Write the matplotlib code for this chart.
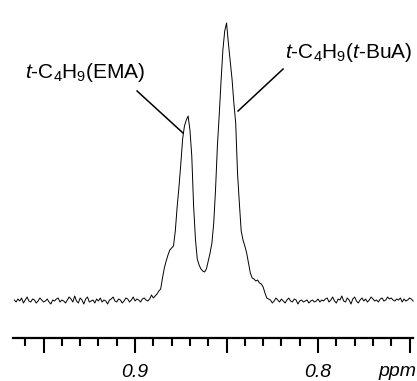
import numpy as np
import matplotlib
matplotlib.use("Agg")
import matplotlib.pyplot as plt
from matplotlib.ticker import MultipleLocator, FixedLocator

plt.rcParams["font.family"] = ["Liberation Sans", "DejaVu Sans"]
plt.rcParams["mathtext.fontset"] = "custom"
plt.rcParams["mathtext.rm"] = "Liberation Sans"
plt.rcParams["mathtext.it"] = "Liberation Sans:italic"

# 1H NMR trace, t-butyl region. Points are sampled every 0.001 ppm from 0.966 ppm downfield.
ppm_start = 0.966
ppm_step = 0.001

baseline_left = [
    1, -1, 2, 0, 3, -2, 1, 4, 0, -1,
    2, 1, -2, 0, 3, 1, -1, 0, 2, -1,
    -3, 1, 0, 2, 3, -1, 1, 0, -2, 1,
    4, 2, -1, 5, 0, -2, 3, 1, -3, 2,
    4, -1, 0, 1, -2, 2, 0, 3, -1, 1,
    0, -3, 1, 2, 4, 0, -1, 2, 1, -2,
    0, 3, 2, -1, 1, 4, 0, 2, 1, -1,
    2, 3, 1, 0, 2, 6, 3,
]
peaks = [
    5, 7, 10, 12, 23, 33, 40, 46, 51, 53,
    55, 70, 94, 114, 137, 162, 175, 181, 185, 171,
    145, 95, 62, 42, 36, 32, 30, 29, 32, 40,
    48, 58, 78, 112, 155, 186, 220, 251, 270, 278,
    258, 240, 222, 198, 178, 128, 98, 70, 61, 55,
    48, 38, 28, 23, 22, 20, 21, 18, 17, 14,
    8, 3, 2,
]
baseline_right = [
    1, -2, 0, 3, 1, -1, 2, 0, -2, 1,
    3, 0, -1, 2, 1, -3, 0, 1, -1, 0,
    1, -2, 0, 1, -1, 0, 2, -1, 1, 0,
    2, 3, -1, 1, 4, 0, -2, 2, 1, 5,
    0, -1, 3, 1, -3, 2, 4, 0, -2, 1,
    3, 0, 2, -1, 1, 4, 2, 0, 1, -1,
    2, 3, 0, 1, 4, 2, 3, 1, 0, 2,
    1, 3, -1, 2, 0, 1, 3, 2, 0,
]
intensity = np.array(baseline_left + peaks + baseline_right, dtype=float)
shift = ppm_start - ppm_step * np.arange(len(intensity))

label_ema = r"$\mathit{t}$-C$_4$H$_9$(EMA)"
label_buA = r"$\mathit{t}$-C$_4$H$_9$($\mathit{t}$-BuA)"

fig = plt.figure(figsize=(4.17, 3.81), dpi=100)
ax = fig.add_axes([13 / 417, 43 / 381, 400 / 417, 338 / 381])
ax.plot(shift, intensity, color="black", lw=0.7, clip_on=False)
ax.set_xlim(0.9667, 0.7481)
ax.set_ylim(-37, 301)

for side in ("left", "right", "top"):
    ax.spines[side].set_visible(False)
ax.spines["bottom"].set_linewidth(1.6)
ax.yaxis.set_visible(False)

ax.xaxis.set_major_locator(FixedLocator([0.95, 0.9, 0.85, 0.8, 0.75]))
ax.xaxis.set_minor_locator(MultipleLocator(0.01))
ax.set_xticklabels(["", "0.9", "", "0.8", ""], fontsize=14, style="italic")
ax.tick_params(axis="x", which="major", direction="out", length=11, width=1.5, pad=8)
ax.tick_params(axis="x", which="minor", direction="out", length=5.5, width=1.5)

fig.text(397 / 417, 1 - 371 / 381, "ppm", fontsize=14, style="italic",
         ha="center", va="center")

# peak labels with leader lines
ax.text(0.8945, 228, label_ema, fontsize=15, ha="right", va="center")
ax.plot([0.8989, 0.8738], [210, 168], color="black", lw=1.1)
ax.text(0.8180, 248, label_buA, fontsize=15, ha="left", va="center")
ax.plot([0.8191, 0.8437], [232, 190], color="black", lw=1.1)

fig.savefig("out.png", dpi=100)
